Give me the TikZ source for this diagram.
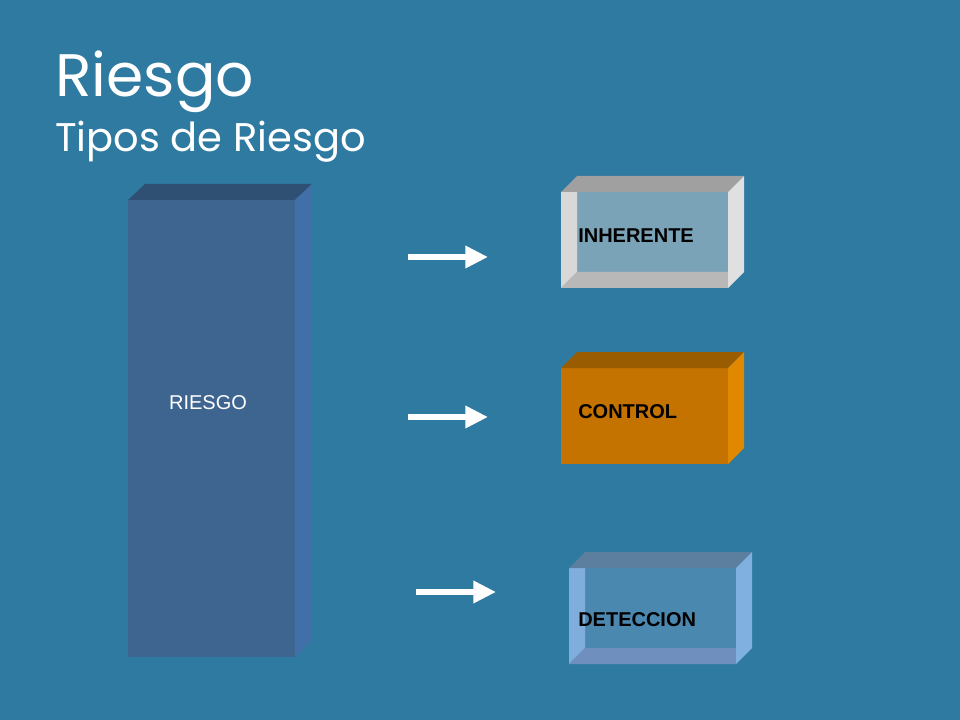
\documentclass[tikz,border=0pt]{standalone}
\usepackage{fontspec}
\setmainfont{Liberation Sans}
\newfontfamily\titlefont{Poppins}
\usetikzlibrary{positioning,arrows.meta}
\definecolor{bg}{HTML}{2E7AA0}
\tikzset{
  boxlabel/.style={font=\bfseries\fontsize{15}{15}\selectfont,text=black,anchor=west,inner sep=0pt},
  arr/.style={draw=white,line width=4.5pt,-{Triangle[length=17pt,width=16pt]}}
}
\begin{document}
\begin{tikzpicture}[x=0.75pt,y=-0.75pt]
	\fill[bg] (0,0) rectangle (960,720);
	\useasboundingbox (0,0) rectangle (960,720);

	\node[anchor=base west,inner sep=0pt,text=white,font=\titlefont\fontsize{45}{45}\selectfont] (t1) at (55,97) {Riesgo};
	\node[anchor=base west,inner sep=0pt,text=white,font=\titlefont\fontsize{30}{30}\selectfont] (t2) at (55,152) {Tipos de Riesgo};

	% column
	\fill[fill={rgb,255:red,62;green,101;blue,144}] (128,200) rectangle (295,657);
	\fill[fill={rgb,255:red,47;green,79;blue,115}] (128,200) -- (145,184) -- (312,184) -- (295,200) -- cycle;
	\fill[fill={rgb,255:red,65;green,112;blue,168}] (295,200) -- (312,184) -- (312,640) -- (295,657) -- cycle;
	\node[text=white,font=\fontsize{15}{15}\selectfont] (riesgo) at (208,403) {RIESGO};

	% inherente
	\fill[fill={rgb,255:red,123;green,163;blue,184}] (561,192) rectangle (728,288);
	\fill[fill={rgb,255:red,216;green,216;blue,216}] (561,192) -- (577,192) -- (577,272) -- (561,288) -- cycle;
	\fill[fill={rgb,255:red,184;green,184;blue,184}] (561,288) -- (577,272) -- (728,272) -- (728,288) -- cycle;
	\fill[fill={rgb,255:red,160;green,160;blue,160}] (561,192) -- (577,176) -- (744,176) -- (728,192) -- cycle;
	\fill[fill={rgb,255:red,224;green,224;blue,224}] (728,192) -- (744,176) -- (744,272) -- (728,288) -- cycle;
	\node[boxlabel] (inh) at (578,236) {INHERENTE};

	% control
	\fill[fill={rgb,255:red,196;green,114;blue,0}] (561,368) rectangle (728,464);
	\fill[fill={rgb,255:red,154;green,92;blue,0}] (561,368) -- (577,352) -- (744,352) -- (728,368) -- cycle;
	\fill[fill={rgb,255:red,224;green,136;blue,0}] (728,368) -- (744,352) -- (744,448) -- (728,464) -- cycle;
	\node[boxlabel] (ctl) at (578,412) {CONTROL};

	% deteccion
	\fill[fill={rgb,255:red,75;green,136;blue,176}] (569,568) rectangle (736,664);
	\fill[fill={rgb,255:red,128;green,174;blue,220}] (569,568) -- (585,568) -- (585,648) -- (569,664) -- cycle;
	\fill[fill={rgb,255:red,111;green,143;blue,191}] (569,664) -- (585,648) -- (736,648) -- (736,664) -- cycle;
	\fill[fill={rgb,255:red,92;green,127;blue,160}] (569,568) -- (585,552) -- (752,552) -- (736,568) -- cycle;
	\fill[fill={rgb,255:red,128;green,176;blue,224}] (736,568) -- (752,552) -- (752,648) -- (736,664) -- cycle;
	\node[boxlabel] (det) at (578,620) {DETECCION};

	% arrows
	\coordinate (a1) at (408,257); \coordinate (b1) at (488,257);
	\coordinate (a2) at (408,417); \coordinate (b2) at (488,417);
	\coordinate (a3) at (416,592); \coordinate (b3) at (496,592);
	\draw[arr] (a1) -- (b1);
	\draw[arr] (a2) -- (b2);
	\draw[arr] (a3) -- (b3);
\end{tikzpicture}
\end{document}
